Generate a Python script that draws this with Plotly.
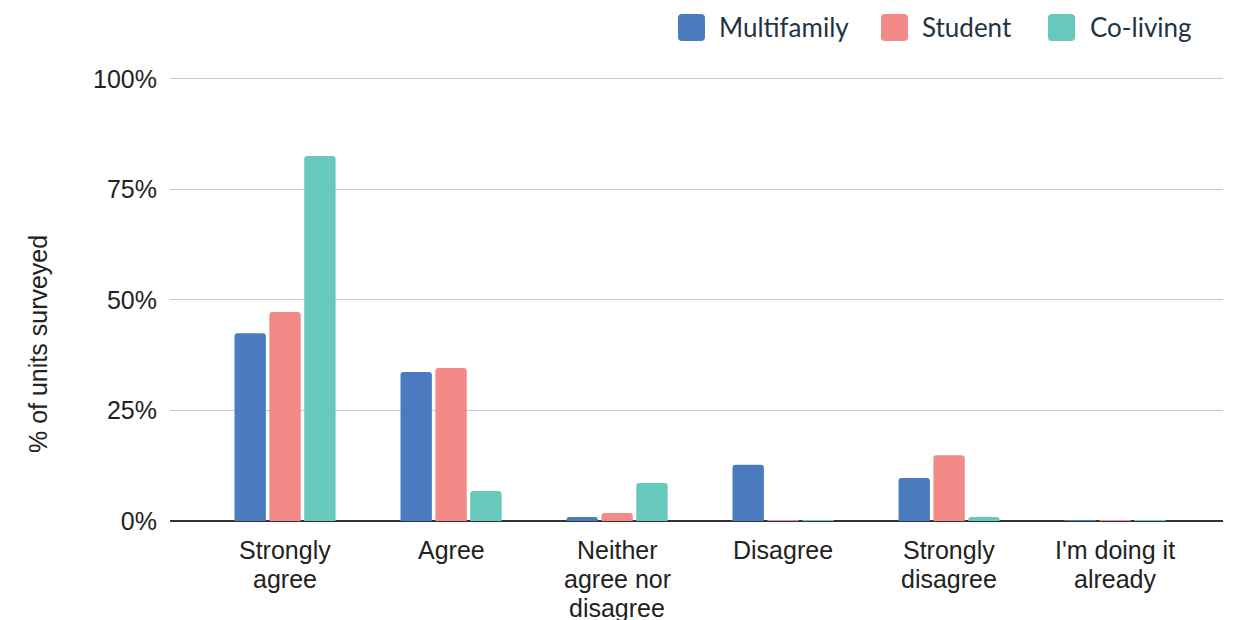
import plotly.graph_objects as go

categories = ["Strongly<br>agree", "Agree", "Neither<br>agree nor<br>disagree", "Disagree",
              "Strongly<br>disagree", "I'm doing it<br>already"]
multifamily = [42.5, 33.7, 0.9, 12.7, 9.7, 0.2]
student = [47.3, 34.6, 1.8, 0.2, 14.9, 0.2]
coliving = [82.6, 6.8, 8.6, 0.2, 0.9, 0.2]
series_names = ["Multifamily", "Student", "Co-living"]
colors = ["#4a7bbf", "#f28b88", "#67c9bb"]
y_ticks = [0, 25, 50, 75, 100]
y_tick_labels = ["0%", "25%", "50%", "75%", "100%"]
y_title = "% of units surveyed"

# plot area in pixels (layout only)
L, R, T, B = 170, 1223, 77, 521
W, H = R - L, B - T

fig = go.Figure()
for name, vals, col in zip(series_names, [multifamily, student, coliving], colors):
    fig.add_trace(go.Bar(
        x=list(range(len(categories))), y=vals, name=name, showlegend=False,
        marker=dict(color=col, cornerradius=3, line=dict(width=0)),
    ))

# custom legend (swatch + label), positioned in paper coords
legend_items = [(678, 717), (881, 920), (1048, 1088)]
shapes, annotations = [], []
for (sx, tx), name, col in zip(legend_items, series_names, colors):
    x0 = (sx - L) / W
    x1 = (sx + 27 - L) / W
    y0 = (B - 41) / H
    y1 = (B - 14) / H
    r = 4 / W
    ry = 4 / H
    path = (f"M {x0+r},{y0} L {x1-r},{y0} Q {x1},{y0} {x1},{y0+ry} L {x1},{y1-ry} "
            f"Q {x1},{y1} {x1-r},{y1} L {x0+r},{y1} Q {x0},{y1} {x0},{y1-ry} "
            f"L {x0},{y0+ry} Q {x0},{y0} {x0+r},{y0} Z")
    shapes.append(dict(type="path", xref="paper", yref="paper", path=path,
                       fillcolor=col, line=dict(width=0)))
    annotations.append(dict(x=(tx - L) / W, y=(B - 27) / H, xref="paper", yref="paper",
                            text=name, showarrow=False, xanchor="left", yanchor="middle",
                            font=dict(family="Lato, sans-serif", size=26, color="#1f3345")))

# y-axis title
annotations.append(dict(x=(38 - L) / W, y=(B - 344) / H, xref="paper", yref="paper",
                        text=y_title, showarrow=False, textangle=-90,
                        xanchor="center", yanchor="middle",
                        font=dict(size=25, color="#222222")))

# category labels: one annotation per line for tighter line spacing (29px)
for i, cat in enumerate(categories):
    for j, line in enumerate(cat.split("<br>")):
        py = 550 + 29 * j
        annotations.append(dict(x=i, xref="x", y=(B - py) / H, yref="paper",
                                text=line, showarrow=False, xanchor="center",
                                yanchor="middle", font=dict(size=25, color="#222222")))

fig.update_layout(
    width=1237, height=620,
    margin=dict(l=L, r=1237 - R, t=T, b=620 - B, autoexpand=False),
    plot_bgcolor="white", paper_bgcolor="white",
    barmode="group", bargap=0.37, bargroupgap=0.1,
    font=dict(family="Liberation Sans, Arial, sans-serif", size=25, color="#222222"),
    showlegend=False,
    shapes=shapes, annotations=annotations,
    xaxis=dict(
        tickmode="array", tickvals=list(range(len(categories))),
        showticklabels=False,
        range=[-0.693, 5.65], showgrid=False, showline=False, zeroline=False,
        ticks="", automargin=False,
    ),
    yaxis=dict(
        range=[0, 100.45], tickvals=y_ticks, ticktext=y_tick_labels,
        showgrid=True, gridcolor="#c8c8c8", gridwidth=1,
        zeroline=True, zerolinecolor="#333333", zerolinewidth=2,
        ticks="", ticklabelstandoff=12, tickfont=dict(size=25, color="#222222"),
        automargin=False,
    ),
)

fig.write_html("out.html")
